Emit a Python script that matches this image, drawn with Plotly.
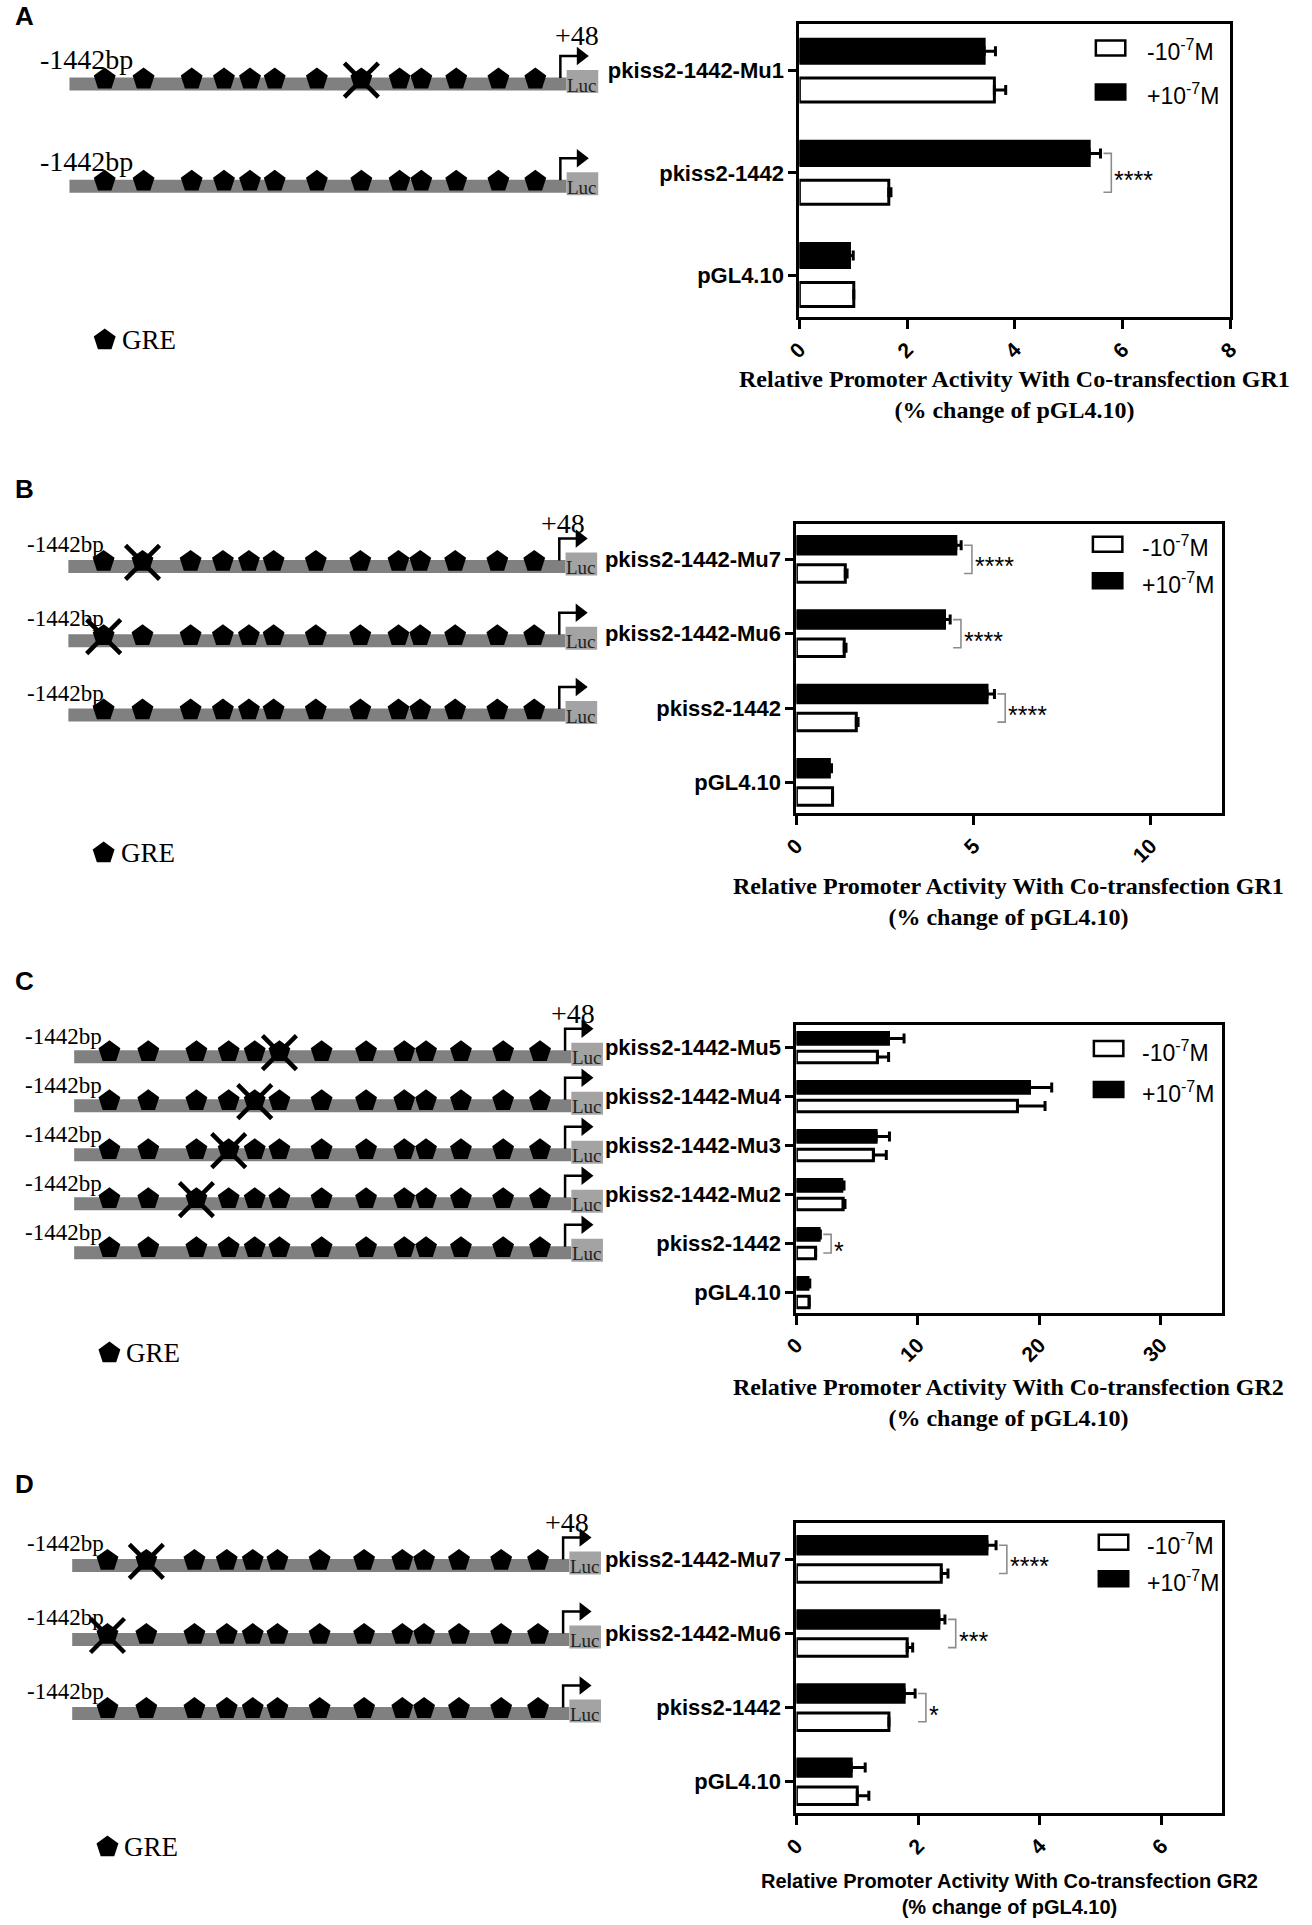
import plotly.graph_objects as go

W, H = 1312, 1925

# ---------------- data ----------------
cats_A = ["pGL4.10", "pkiss2-1442", "pkiss2-1442-Mu1"]
minus_A = [1.01, 1.66, 3.62]
minus_A_err = [0.0, 0.04, 0.21]
plus_A = [0.93, 5.38, 3.43]
plus_A_err = [0.07, 0.21, 0.21]
sig_A = {"pkiss2-1442": "****"}
ticks_A = [0, 2, 4, 6, 8]

cats_B = ["pGL4.10", "pkiss2-1442", "pkiss2-1442-Mu6", "pkiss2-1442-Mu7"]
minus_B = [1.02, 1.69, 1.35, 1.38]
minus_B_err = [0.0, 0.05, 0.05, 0.05]
plus_B = [0.93, 5.38, 4.18, 4.50]
plus_B_err = [0.06, 0.21, 0.16, 0.15]
sig_B = {"pkiss2-1442": "****", "pkiss2-1442-Mu6": "****", "pkiss2-1442-Mu7": "****"}
ticks_B = [0, 5, 10]

cats_C = ["pGL4.10", "pkiss2-1442", "pkiss2-1442-Mu2", "pkiss2-1442-Mu3",
          "pkiss2-1442-Mu4", "pkiss2-1442-Mu5"]
minus_C = [1.05, 1.58, 3.85, 6.34, 18.2, 6.67]
minus_C_err = [0.0, 0.0, 0.15, 1.06, 2.27, 0.92]
plus_C = [0.95, 1.87, 3.74, 6.56, 19.19, 7.58]
plus_C_err = [0.15, 0.10, 0.18, 1.10, 1.83, 1.28]
sig_C = {"pkiss2-1442": "*"}
ticks_C = [0, 10, 20, 30]

cats_D = ["pGL4.10", "pkiss2-1442", "pkiss2-1442-Mu6", "pkiss2-1442-Mu7"]
minus_D = [1.00, 1.52, 1.82, 2.38]
minus_D_err = [0.19, 0.0, 0.09, 0.11]
plus_D = [0.90, 1.77, 2.34, 3.13]
plus_D_err = [0.23, 0.18, 0.10, 0.15]
sig_D = {"pkiss2-1442": "*", "pkiss2-1442-Mu6": "***", "pkiss2-1442-Mu7": "****"}
ticks_D = [0, 2, 4, 6]

series_names = ["-10<sup>-7</sup>M", "+10<sup>-7</sup>M"]

# GRE sites along the promoter (bp relative to TSS) and mutated site per construct
gre_bp = [-1335, -1217, -1071, -973, -894, -819, -691, -556, -440, -374, -268, -140, -28]
promoter_start = -1442
promoter_end = 48
mutated_site = {"pkiss2-1442": None, "pkiss2-1442-Mu1": 7, "pkiss2-1442-Mu2": 2,
                "pkiss2-1442-Mu3": 3, "pkiss2-1442-Mu4": 4, "pkiss2-1442-Mu5": 5,
                "pkiss2-1442-Mu6": 0, "pkiss2-1442-Mu7": 1}

titles = {
    "A": "Relative Promoter Activity With Co-transfection GR1<br>(% change of pGL4.10)",
    "B": "Relative Promoter Activity With Co-transfection GR1<br>(% change of pGL4.10)",
    "C": "Relative Promoter Activity With Co-transfection GR2<br>(% change of pGL4.10)",
    "D": "Relative Promoter Activity With Co-transfection GR2<br>(% change of pGL4.10)",
}

# ---------------- layout constants (pixels) ----------------
SANS = "Liberation Sans, Arial, sans-serif"
SERIF = "Liberation Serif, Times New Roman, serif"
BP_PX = 0.3356          # pixels per bp in the diagrams
DIAG_RANGE = [-1600, 200]

panels = [
    dict(key="A", cats=cats_A, minus=minus_A, minus_err=minus_A_err, plus=plus_A,
         plus_err=plus_A_err, sig=sig_A, ticks=ticks_A, xr=[0, 8],
         px=(800, 1239), top=24, bot=317, p0=275, ppc=102.2,
         dshift=13.5, bar_start=56.5, dtop=0, dbot=420, lbl_size=28, lbl_dx=-31,
         lbl_dy=25, p48_dx=17, p48_dy=49, gre_y=340, title_y=394, title_font=SERIF,
         title_size=24, title_bold=True, letter_y=16,
         leg=dict(bx=-137, tx=-87, top=16.5, gap=44)),
    dict(key="B", cats=cats_B, minus=minus_B, minus_err=minus_B_err, plus=plus_B,
         plus_err=plus_B_err, sig=sig_B, ticks=ticks_B, xr=[0, 12],
         px=(797, 1230), top=524.3, bot=813.3, p0=782.3, ppc=74.3,
         dshift=7, bar_start=55.4, dtop=470, dbot=900, lbl_size=23, lbl_dx=-43,
         lbl_dy=22, p48_dx=4, p48_dy=43, gre_y=853, title_y=901, title_font=SERIF,
         title_size=24, title_bold=True, letter_y=489,
         leg=dict(bx=-131, tx=-83, top=12.5, gap=36.5)),
    dict(key="C", cats=cats_C, minus=minus_C, minus_err=minus_C_err, plus=plus_C,
         plus_err=plus_C_err, sig=sig_C, ticks=ticks_C, xr=[0, 35],
         px=(797, 1230), top=1025, bot=1312.7, p0=1292.7, ppc=49.0,
         dshift=9, bar_start=61.3, dtop=960, dbot=1400, lbl_size=23, lbl_dx=-51,
         lbl_dy=20, p48_dx=8, p48_dy=43, gre_y=1353, title_y=1402, title_font=SERIF,
         title_size=24, title_bold=True, letter_y=981,
         leg=dict(bx=-130, tx=-83, top=16, gap=41)),
    dict(key="D", cats=cats_D, minus=minus_D, minus_err=minus_D_err, plus=plus_D,
         plus_err=plus_D_err, sig=sig_D, ticks=ticks_D, xr=[0, 7],
         px=(797, 1231), top=1523.3, bot=1813.3, p0=1781.7, ppc=74.1,
         dshift=6, bar_start=59.3, dtop=1470, dbot=1925, lbl_size=23, lbl_dx=-47,
         lbl_dy=22, p48_dx=4, p48_dy=43, gre_y=1847, title_y=1894, title_font=SANS,
         title_size=20, title_bold=True, letter_y=1484,
         leg=dict(bx=-126, tx=-79, top=11.5, gap=36.5)),
]


def xdom(a, b):
    return [a / W, b / W]


def ydom(top, bot):
    return [1 - bot / H, 1 - top / H]


fig = go.Figure()
layout = dict(width=W, height=H, margin=dict(l=0, r=0, t=0, b=0),
              paper_bgcolor="white", plot_bgcolor="white", showlegend=False,
              barmode="group", bargap=0.24, bargroupgap=0.38)
shapes, annotations = [], []

for k, P in enumerate(panels):
    ci = 2 * k + 1      # chart axis number
    di = 2 * k + 2      # diagram axis number
    cx = "x" if ci == 1 else f"x{ci}"
    cy = "y" if ci == 1 else f"y{ci}"
    cxk = "xaxis" if ci == 1 else f"xaxis{ci}"
    cyk = "yaxis" if ci == 1 else f"yaxis{ci}"
    dx, dy = f"x{di}", f"y{di}"
    n = len(P["cats"])
    idx = list(range(n))
    ppc = P["ppc"]
    x0px, x1px = P["px"]
    ppu = (x1px - x0px) / (P["xr"][1] - P["xr"][0])

    # ---------- chart ----------
    yr = [(P["p0"] - P["bot"]) / ppc, (P["p0"] - P["top"]) / ppc]
    layout[cxk] = dict(
        domain=xdom(x0px, x1px), anchor=cy, range=P["xr"], autorange=False,
        tickvals=P["ticks"],
        tickangle=-45, ticks="outside", ticklen=9, tickwidth=2.5, tickcolor="black",
        showline=True, mirror=True, linecolor="black", linewidth=3,
        showgrid=False, zeroline=False,
        tickfont=dict(family=SANS, size=21, color="black", weight="bold"))
    layout[cyk] = dict(
        domain=ydom(P["top"], P["bot"]), anchor=cx, range=yr, autorange=False,
        tickvals=idx,
        ticktext=P["cats"], ticks="outside", ticklen=8, tickwidth=2.5,
        tickcolor="black", showline=True, mirror=True, linecolor="black",
        linewidth=3, showgrid=False, zeroline=False,
        tickfont=dict(family=SANS, size=22, color="black", weight="bold"))

    fig.add_trace(go.Bar(
        name=series_names[0], x=P["minus"], y=idx, orientation="h",
        xaxis=cx, yaxis=cy,
        marker=dict(color="white", line=dict(color="black", width=3)),
        error_x=dict(type="data", array=P["minus_err"], arrayminus=[0] * n,
                     symmetric=False, color="black", thickness=3, width=5)))
    fig.add_trace(go.Bar(
        name=series_names[1], x=P["plus"], y=idx, orientation="h",
        xaxis=cx, yaxis=cy,
        marker=dict(color="black", line=dict(color="black", width=3)),
        error_x=dict(type="data", array=P["plus_err"], arrayminus=[0] * n,
                     symmetric=False, color="black", thickness=3, width=5)))

    # significance brackets
    for cat, stars in P["sig"].items():
        i = P["cats"].index(cat)
        end = max(P["plus"][i] + P["plus_err"][i], P["minus"][i] + P["minus_err"][i])
        bx0 = end + 3 / ppu
        bx1 = bx0 + 8 / ppu
        fig.add_trace(go.Scatter(
            x=[bx0, bx1, bx1, bx0], y=[i + 0.19, i + 0.19, i - 0.19, i - 0.19],
            mode="lines", line=dict(color="#8c8c8c", width=1.6),
            xaxis=cx, yaxis=cy, hoverinfo="skip"))
        annotations.append(dict(
            x=bx1, y=i, xref=cx, yref=cy, text=stars, showarrow=False,
            xanchor="left", yanchor="middle", xshift=1, yshift=-7,
            font=dict(family=SANS, size=25, color="black")))

    # legend (drawn inside plot, top-right)
    L = P["leg"]
    for j, (fill, name) in enumerate(zip(["white", "black"], series_names)):
        btop = P["top"] + L["top"] + j * L["gap"]
        shapes.append(dict(type="rect", xref="paper", yref="paper",
                           x0=(x1px + L["bx"]) / W, x1=(x1px + L["bx"] + 30) / W,
                           y0=1 - (btop + 15) / H, y1=1 - btop / H,
                           fillcolor=fill, line=dict(color="black", width=2.5)))
        annotations.append(dict(
            x=(x1px + L["tx"]) / W, y=1 - (btop + 7.5) / H, xref="paper", yref="paper",
            text=name, showarrow=False, xanchor="left", yanchor="middle", yshift=-2,
            font=dict(family=SANS, size=23, color="black")))

    # x title
    ttxt = titles[P["key"]]
    if P["title_bold"]:
        ttxt = "<b>" + ttxt.replace("<br>", "</b><br><b>") + "</b>"
    annotations.append(dict(
        x=(x0px + x1px) / 2 / W, y=1 - P["title_y"] / H, xref="paper", yref="paper",
        text=ttxt, showarrow=False, xanchor="center", yanchor="middle",
        font=dict(family=P["title_font"], size=P["title_size"], color="black")))

    # panel letter
    annotations.append(dict(
        x=0, y=1 - P["letter_y"] / H, xref="paper", yref="paper", text="<b>%s</b>" % P["key"],
        showarrow=False, xanchor="left", yanchor="middle", xshift=-1,
        font=dict(family=SANS, size=26, color="black")))

    # ---------- promoter diagram ----------
    p0d = P["p0"] + P["dshift"]
    dl = P["bar_start"] - (promoter_start - DIAG_RANGE[0]) * BP_PX
    dr = dl + (DIAG_RANGE[1] - DIAG_RANGE[0]) * BP_PX
    layout[f"xaxis{di}"] = dict(domain=xdom(dl, dr), anchor=dy, range=DIAG_RANGE,
                                autorange=False, visible=False)
    layout[f"yaxis{di}"] = dict(domain=ydom(P["dtop"], P["dbot"]), anchor=dx,
                                range=[(p0d - P["dbot"]) / ppc, (p0d - P["dtop"]) / ppc],
                                autorange=False, visible=False)
    u = 1 / ppc   # one pixel in row units
    bar_end = promoter_end + 19
    luc_end = bar_end + 96
    top_row = n - 1
    for i in range(1, n):
        cat = P["cats"][i]
        fig.add_trace(go.Scatter(
            x=[promoter_start, bar_end], y=[i, i], mode="lines",
            line=dict(color="#808080", width=13), xaxis=dx, yaxis=dy, hoverinfo="skip"))
        shapes.append(dict(type="rect", xref=dx, yref=dy, x0=bar_end, x1=luc_end,
                           y0=i - 9 * u, y1=i + 14 * u, fillcolor="#a3a3a3",
                           line=dict(width=0), layer="above"))
        annotations.append(dict(x=(bar_end + luc_end) / 2, y=i + 2 * u, xref=dx, yref=dy,
                                text="Luc", showarrow=False, yshift=-3,
                                font=dict(family=SERIF, size=19, color="#222222")))
        fig.add_trace(go.Scatter(
            x=gre_bp, y=[i + 5 * u] * len(gre_bp), mode="markers",
            marker=dict(symbol="pentagon", size=23, color="black", line=dict(width=0)),
            xaxis=dx, yaxis=dy, hoverinfo="skip"))
        m = mutated_site.get(cat)
        if m is not None:
            fig.add_trace(go.Scatter(
                x=[gre_bp[m]], y=[i + 4 * u], mode="markers",
                marker=dict(symbol="x-thin", size=34, color="black",
                            line=dict(width=4.5, color="black")),
                xaxis=dx, yaxis=dy, hoverinfo="skip"))
        # transcription start arrow
        fig.add_trace(go.Scatter(
            x=[promoter_end, promoter_end, promoter_end + 55],
            y=[i + 6 * u, i + 28 * u, i + 28 * u], mode="lines",
            line=dict(color="black", width=2.5), xaxis=dx, yaxis=dy, hoverinfo="skip"))
        fig.add_trace(go.Scatter(
            x=[promoter_end + 62], y=[i + 28 * u], mode="markers",
            marker=dict(symbol="triangle-right", size=16, color="black",
                        line=dict(width=0)),
            xaxis=dx, yaxis=dy, hoverinfo="skip"))
        annotations.append(dict(
            x=promoter_start, y=i, xref=dx, yref=dy, text="%dbp" % promoter_start,
            showarrow=False, xanchor="left", yanchor="middle", xshift=P["lbl_dx"],
            yshift=P["lbl_dy"], font=dict(family=SERIF, size=P["lbl_size"], color="black")))
        if i == top_row:
            annotations.append(dict(
                x=promoter_end, y=i, xref=dx, yref=dy, text="+%d" % promoter_end,
                showarrow=False, xanchor="center", yanchor="middle", xshift=P["p48_dx"],
                yshift=P["p48_dy"], font=dict(family=SERIF, size=28, color="black")))
    # GRE key
    gy = (p0d - P["gre_y"]) / ppc
    fig.add_trace(go.Scatter(
        x=[gre_bp[0]], y=[gy], mode="markers",
        marker=dict(symbol="pentagon", size=23, color="black", line=dict(width=0)),
        xaxis=dx, yaxis=dy, hoverinfo="skip"))
    annotations.append(dict(
        x=gre_bp[0], y=gy, xref=dx, yref=dy, text="GRE", showarrow=False,
        xanchor="left", yanchor="middle", xshift=15,
        font=dict(family=SERIF, size=27, color="black")))

layout["shapes"] = shapes
layout["annotations"] = annotations
fig.update_layout(**layout)
fig.write_html("out.html", config={"displayModeBar": False},
               post_script="document.body.style.margin='0px';")
